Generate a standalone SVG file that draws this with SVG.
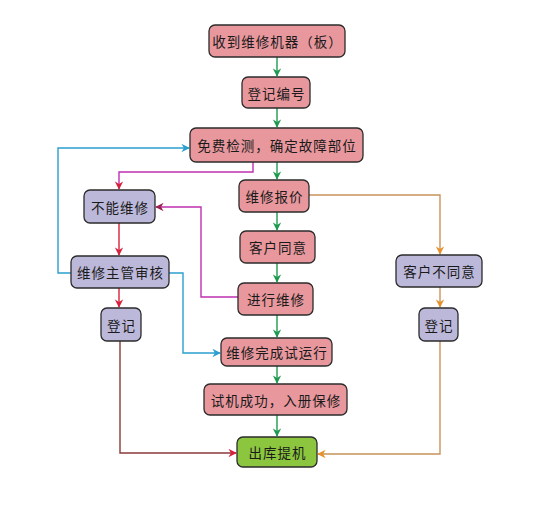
<svg xmlns="http://www.w3.org/2000/svg" width="552" height="516" viewBox="0 0 552 516">
<defs>
<style>
.n rect{stroke:#2b2b2b;stroke-width:1.3}
.p rect{fill:#e8979d}
.v rect{fill:#bcb8d9}
.g rect{fill:#8cc63f}
text{font-family:"Noto Sans CJK SC","Noto Sans CJK JP",sans-serif;font-size:13.5px;letter-spacing:1px;fill:#1a1a1a;text-anchor:middle;dominant-baseline:central}
.c path{fill:none;stroke-width:1.4}
</style>
<marker id="ag" viewBox="0 0 10 10" refX="9" refY="5" markerWidth="6" markerHeight="6" orient="auto"><path d="M0,0L10,5L0,10L3,5z" fill="#1e9a4e"/></marker>
<marker id="ar" viewBox="0 0 10 10" refX="9" refY="5" markerWidth="6" markerHeight="6" orient="auto"><path d="M0,0L10,5L0,10L3,5z" fill="#d8203c"/></marker>
<marker id="am" viewBox="0 0 10 10" refX="9" refY="5" markerWidth="6" markerHeight="6" orient="auto"><path d="M0,0L10,5L0,10L3,5z" fill="#9a2050"/></marker>
<marker id="ab" viewBox="0 0 10 10" refX="9" refY="5" markerWidth="6" markerHeight="6" orient="auto"><path d="M0,0L10,5L0,10L3,5z" fill="#2a9fd0"/></marker>
<marker id="ao" viewBox="0 0 10 10" refX="9" refY="5" markerWidth="6" markerHeight="6" orient="auto"><path d="M0,0L10,5L0,10L3,5z" fill="#e8902a"/></marker>
</defs>
<g id="connectors" class="c">
<g stroke="#1e9a4e">
<path d="M277,57V76" marker-end="url(#ag)"/>
<path d="M277,108V127" marker-end="url(#ag)"/>
<path d="M277,162V179" marker-end="url(#ag)"/>
<path d="M277,212V230" marker-end="url(#ag)"/>
<path d="M277,263V282" marker-end="url(#ag)"/>
<path d="M277,315V337" marker-end="url(#ag)"/>
<path d="M277,366V383" marker-end="url(#ag)"/>
<path d="M277,415V436" marker-end="url(#ag)"/>
</g>
<path d="M253,162V172H119V189" stroke="#c030b0" marker-end="url(#ar)"/>
<path d="M238,297H201V207H156" stroke="#c030b0" marker-end="url(#am)"/>
<path d="M119,223V255" stroke="#d8203c" marker-end="url(#ar)"/>
<path d="M119,288V307" stroke="#d8203c" marker-end="url(#ar)"/>
<path d="M71,273H58V148H189" stroke="#2a9fd0" marker-end="url(#ab)"/>
<path d="M169,273H183V353H220" stroke="#2a9fd0" marker-end="url(#ab)"/>
<path d="M120,341V453H236" stroke="#8b3a3a" marker-end="url(#ar)"/>
<path d="M309,195H440V254" stroke="#c8935a" marker-end="url(#ao)"/>
<path d="M440,287V307" stroke="#c8935a" marker-end="url(#ao)"/>
<path d="M440,341V454H318" stroke="#c8935a" marker-end="url(#ao)"/>
</g>
<g id="n1" class="n p"><rect x="209" y="25" width="136" height="32" rx="6"/><text x="277.5" y="41">收到维修机器（板）</text></g>
<g id="n2" class="n p"><rect x="242" y="77" width="68" height="31" rx="6"/><text x="276.5" y="92.5">登记编号</text></g>
<g id="n3" class="n p"><rect x="190" y="128" width="173" height="34" rx="6"/><text x="277" y="145">免费检测，确定故障部位</text></g>
<g id="n4" class="n p"><rect x="239" y="180" width="70" height="32" rx="6"/><text x="274.5" y="196">维修报价</text></g>
<g id="n5" class="n p"><rect x="240" y="231" width="75" height="32" rx="6"/><text x="278" y="247">客户同意</text></g>
<g id="n6" class="n p"><rect x="238" y="283" width="75" height="32" rx="6"/><text x="276" y="299">进行维修</text></g>
<g id="n7" class="n p"><rect x="221" y="338" width="111" height="28" rx="6"/><text x="277" y="352">维修完成试运行</text></g>
<g id="n8" class="n p"><rect x="204" y="384" width="143" height="31" rx="6"/><text x="276" y="399.5">试机成功，入册保修</text></g>
<g id="n9" class="n g"><rect x="237" y="437" width="80" height="30" rx="6"/><text x="277.5" y="452">出库提机</text></g>
<g id="n10" class="n v"><rect x="84" y="190" width="71" height="33" rx="6"/><text x="120" y="206.5">不能维修</text></g>
<g id="n11" class="n v"><rect x="71" y="256" width="98" height="32" rx="6"/><text x="120.5" y="272">维修主管审核</text></g>
<g id="n12" class="n v"><rect x="101" y="308" width="40" height="33" rx="6"/><text x="121.5" y="324.5">登记</text></g>
<g id="n13" class="n v"><rect x="396" y="255" width="86" height="32" rx="6"/><text x="439.5" y="271">客户不同意</text></g>
<g id="n14" class="n v"><rect x="419" y="308" width="39" height="33" rx="6"/><text x="439" y="324.5">登记</text></g>
</svg>
